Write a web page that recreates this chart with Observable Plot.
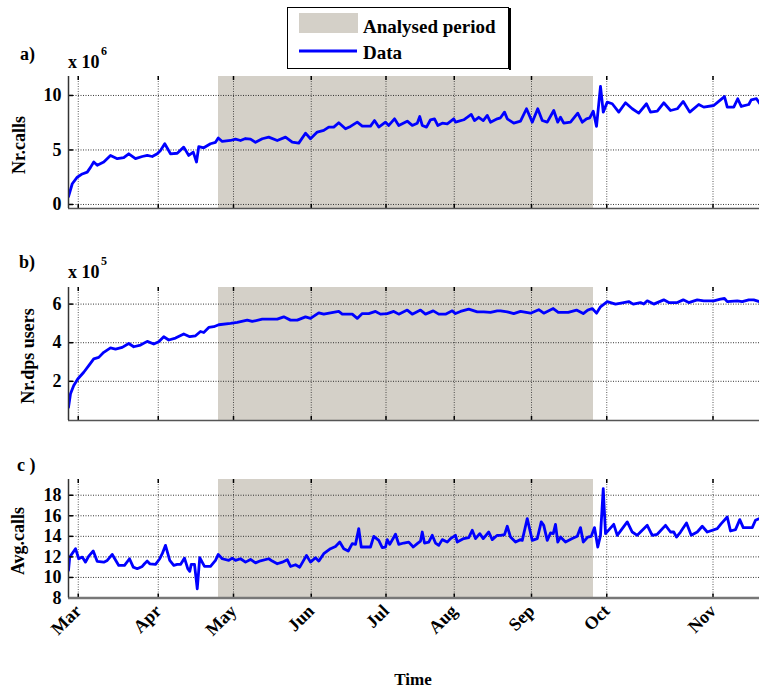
<!DOCTYPE html>
<html><head><meta charset="utf-8">
<script src="https://cdn.jsdelivr.net/npm/d3@7"></script>
<script src="https://cdn.jsdelivr.net/npm/@observablehq/plot@0.6"></script>
<style>
body{margin:0;background:#fff}
#chart{position:relative;width:759px;height:688px;overflow:hidden;background:#fff}
#chart svg{position:absolute;left:0}
</style></head><body><div id="chart"></div>
<script>
// x axis: days since the start of the series
const monthLabels = ["Mar","Apr","May","Jun","Jul","Aug","Sep","Oct","Nov"];
const monthDays = [3.9,35.9,66,97.1,127,154.3,185.2,215.3,257.8];
const periodStart = 60, periodEnd = 210;
const xDomain = [0, 276.4];

// a) Nr.calls (x 10^6)
const callsDay = [0,1.5,3.5,5.5,7.5,8.8,10.1,11.5,14.1,16.8,19.5,22.1,24.1,26.8,29.5,31.5,33.5,35.5,36.8,38.5,40.8,43.5,46.1,48.1,49.9,51.2,52.1,54.1,56.8,58.8,59.9,61.5,64.8,66.8,68.8,70.8,72.8,74.8,77.5,80.1,83.5,86.8,89.5,92.1,94.8,96.8,99.5,102.1,104.1,106.1,108.1,110.8,112.8,115.5,117.5,120.8,122.4,124.1,126.8,128.1,130.4,132.1,135.5,137.5,139.5,140.5,141.5,143.2,144.8,146.4,147.7,149.5,151.5,154.1,154.8,158.1,161.1,162.4,164.1,165.9,167.5,168.8,171.5,172.8,174.4,175.5,178.1,180.8,183.2,185.5,187.7,189.5,191.5,194.1,195.7,196.8,198.1,200.8,203.7,205.5,207.2,208.5,209.9,211.2,212.8,213.9,215.5,217.5,220.1,222.8,225.5,228.1,231.2,232.8,235.5,238.1,240.8,243.5,245.9,248.5,252.1,254.1,258.1,260.8,262.4,263.5,266.1,267.7,269.1,272.1,273.1,275.2,276.4];
const callsVal = [0.73,1.9,2.5,2.8,2.97,3.4,3.9,3.6,3.9,4.5,4.2,4.3,4.65,4.2,4.4,4.5,4.4,4.65,4.95,5.57,4.65,4.7,5.26,4.5,4.8,3.9,5.3,5.2,5.57,5.7,6.1,5.78,5.87,6.0,5.87,6.05,6.0,5.7,6.03,6.18,5.87,6.18,5.72,5.63,6.54,6.03,6.64,6.79,7.1,7.1,7.5,6.94,7.16,7.55,7.19,7.19,7.7,7.1,7.55,7.25,7.86,7.25,7.64,7.25,7.46,8.07,7.25,7.1,7.77,7.86,7.25,7.46,7.4,7.86,7.55,7.77,8.26,7.7,8.0,7.7,8.17,7.55,7.86,7.95,8.47,7.86,7.46,7.64,8.78,7.55,8.78,7.7,7.55,8.62,7.55,8.0,7.46,7.55,8.38,7.55,7.86,7.95,8.56,7.16,10.83,8.47,9.39,9.24,8.47,9.33,8.78,8.38,9.24,8.47,8.56,9.33,8.62,8.78,9.45,8.47,9.17,8.93,9.08,9.6,9.9,8.93,8.93,9.7,8.99,9.17,9.6,9.7,9.29];

// b) Nr.dps users (x 10^5)
const usersDay = [0,0.8,2.1,3.7,6.1,8.1,10.1,12.1,14.1,16.8,18.8,21.5,24.1,26.1,28.8,31.5,34.1,36.1,38.1,40.1,42.8,46.1,48.5,50.8,52.8,54.1,56.1,58.1,60.1,64.8,67.5,71.5,73.5,77.5,83.5,86.1,88.8,91.5,94.8,96.8,100.1,102.1,104.8,108.1,109.5,113.5,115.5,117.5,120.1,122.8,124.8,127.5,130.1,132.1,135.5,137.5,140.8,142.8,145.9,148.1,150.8,153.5,154.8,156.8,160.1,163.5,166.1,168.8,171.5,172.8,175.5,178.1,180.8,184.8,188.1,190.1,193.9,195.9,199.9,203.2,205.9,207.7,209.5,211.2,212.8,215.5,218.8,222.1,224.1,225.9,228.8,230.1,231.5,234.1,238.1,240.1,243.5,245.9,248.1,251.5,254.1,258.1,260.8,262.4,263.5,267.5,269.5,272.1,274.1,276.4];
const usersVal = [0.66,1.35,1.78,2.12,2.47,2.81,3.16,3.24,3.5,3.73,3.67,3.76,3.96,3.79,3.88,4.07,3.93,4.05,4.31,4.14,4.24,4.45,4.31,4.36,4.58,4.53,4.79,4.83,4.93,5.0,5.05,5.17,5.1,5.22,5.22,5.34,5.17,5.17,5.34,5.26,5.55,5.48,5.55,5.62,5.48,5.48,5.26,5.51,5.51,5.62,5.48,5.51,5.62,5.48,5.69,5.48,5.69,5.48,5.65,5.48,5.48,5.65,5.51,5.62,5.74,5.6,5.6,5.57,5.65,5.65,5.6,5.51,5.62,5.53,5.71,5.53,5.77,5.57,5.57,5.69,5.51,5.69,5.77,5.53,5.86,6.13,6.0,6.08,6.13,6.0,6.08,6.0,6.17,6.0,6.22,6.08,6.08,6.22,6.08,6.22,6.17,6.17,6.26,6.29,6.13,6.17,6.13,6.22,6.22,6.13];

// c) Avg.calls
const avgDay = [0,0.5,2.8,4.1,5.5,6.8,8.1,9.9,11.5,14.1,15.5,17.5,20.1,22.4,24.4,25.9,27.5,29.5,30.4,31.5,32.5,34.8,36.5,37.5,38.8,40.5,42.1,43.5,44.8,46.4,47.7,48.5,49.1,50.4,51.5,52.5,54.4,56.8,58.8,59.9,61.5,64.1,65.5,66.8,68.8,70.8,72.8,74.8,76.8,80.1,81.5,83.5,85.5,87.5,88.8,90.8,92.5,95.2,96.8,98.8,100.1,102.1,104.8,106.8,108.5,110.1,111.9,113.5,114.8,116.1,117.1,120.8,122.1,124.1,125.5,126.8,127.5,128.5,130.8,132.1,134.1,136.1,137.9,139.5,140.8,141.5,142.4,144.1,145.5,146.8,148.1,149.5,151.5,152.8,154.8,155.5,158.1,160.1,161.5,162.8,164.5,165.9,168.1,169.5,171.5,172.8,174.4,175.5,176.8,178.8,180.8,181.5,183.5,185.5,187.5,189.1,190.1,191.5,192.8,193.9,194.8,195.7,196.8,198.8,201.5,203.5,204.8,205.9,207.7,209.1,210.4,211.7,212.8,213.9,214.8,218.1,219.5,223.5,225.5,227.5,228.8,231.5,233.5,235.5,238.8,240.8,242.1,243.2,244.8,247.2,249.1,251.5,253.5,255.5,259.5,261.1,263.5,264.8,266.8,268.5,269.9,273.5,274.8,276.4];
const avgVal = [10.68,11.98,12.8,11.82,11.98,11.49,12.08,12.57,11.56,11.49,11.66,12.24,11.17,11.17,11.82,11.0,10.85,11.07,11.33,11.59,11.33,11.27,11.82,12.31,13.12,11.66,11.17,11.27,11.27,11.88,10.85,10.59,11.27,11.27,8.9,11.92,11.07,11.07,11.66,12.24,11.82,11.66,11.88,11.66,11.82,11.49,11.75,11.42,11.62,11.82,11.59,11.33,11.49,11.73,11.07,11.24,11.0,12.15,11.49,11.92,11.59,12.31,12.8,13.02,13.44,12.8,12.57,13.29,13.22,14.75,12.96,12.96,14.0,13.61,12.9,12.96,13.68,13.22,14.2,13.22,13.35,13.44,12.96,13.29,13.54,14.42,13.35,13.44,14.1,13.35,13.12,13.68,13.44,13.78,14.1,13.44,13.78,13.87,14.59,13.78,14.26,13.78,14.42,13.68,14.1,14.1,14.17,14.98,13.93,13.44,13.68,13.61,15.73,13.61,13.78,15.4,15.07,13.61,14.33,14.26,15.17,13.44,13.93,13.44,13.78,14.0,14.85,13.44,13.93,14.0,14.85,12.96,14.1,18.65,14.26,15.17,14.1,15.4,14.42,14.1,14.42,15.07,14.1,14.2,15.07,14.42,14.42,13.93,14.42,15.3,14.1,14.42,14.98,14.42,14.75,15.24,15.88,14.52,14.65,15.63,14.85,14.85,15.56,15.73];

const aTicks = [0,5,10], bTicks = [2,4,6], cTicks = [8,10,12,14,16,18];

const FONT = '"Liberation Serif","Times New Roman",serif';
const W = 759, ML = 68;
const labelOf = new Map(monthDays.map((d,i)=>[d, monthLabels[i]]));
const root = document.getElementById("chart");

function panel({days, vals, yDomain, yTicks, top, height, marginTop, marginBottom, showMonths, bottomStroke, bottomWidth}) {
  const data = days.map((d,i)=>({d, v: vals[i]}));
  const frameH = height - marginTop - marginBottom;
  const frameW = W - ML;
  const marks = [
    Plot.rect([0], {x1: periodStart, x2: periodEnd, y1: yDomain[0], y2: yDomain[1], fill: "#d4d0c8"}),
    Plot.gridY(yTicks, {stroke: "#222", strokeOpacity: 0.9, strokeDasharray: "1,1.5", strokeWidth: 1}),
    Plot.gridX(monthDays, {stroke: "#222", strokeOpacity: 0.75, strokeDasharray: "1,1.5", strokeWidth: 1}),
    Plot.line(data, {x: "d", y: "v", stroke: "#0000ff", strokeWidth: 2.8, clip: true}),
    Plot.tickX(monthDays, {x: d=>d, stroke: "#000", strokeWidth: 1.5, insetBottom: frameH - 4}),
    Plot.tickX(monthDays, {x: d=>d, stroke: "#000", strokeWidth: 1.5, insetTop: frameH - 4}),
    Plot.tickY(yTicks, {y: d=>d, stroke: "#000", strokeWidth: 1.5, insetRight: frameW - 5}),
    Plot.ruleY([yDomain[0]], {stroke: bottomStroke, strokeWidth: bottomWidth}),
    Plot.ruleX([xDomain[0]], {stroke: "#333", strokeWidth: 1.5}),
    Plot.axisY(yTicks, {tickSize: 0, tickPadding: 7, label: null, fontSize: 18, fontWeight: "bold", fontFamily: FONT, fill: "#000"})
  ];
  if (showMonths) {
    marks.push(Plot.axisX(monthDays, {tickSize: 0, tickPadding: 10, tickRotate: -45, label: null, tickFormat: d=>labelOf.get(d),
      fontSize: 18, fontWeight: "bold", fontFamily: FONT, fill: "#000"}));
  }
  const svg = Plot.plot({
    width: W, height, marginLeft: ML, marginRight: 0, marginTop, marginBottom,
    x: {type: "linear", domain: xDomain, axis: null, label: null},
    y: {type: "linear", domain: yDomain, axis: null, label: null},
    style: {fontFamily: FONT, fontWeight: "bold", fontSize: "17px", background: "transparent", overflow: "visible", color: "#000"},
    marks
  });
  svg.style.position = "absolute";
  svg.style.top = top + "px";
  svg.style.left = "0px";
  root.appendChild(svg);
}

panel({days: callsDay, vals: callsVal, yDomain: [-0.37, 11.74], yTicks: aTicks, top: 70, height: 144, marginTop: 6, marginBottom: 6, showMonths: false, bottomStroke: "#555", bottomWidth: 1.5});
panel({days: usersDay, vals: usersVal, yDomain: [-0.03, 6.86], yTicks: bTicks, top: 281, height: 145, marginTop: 6, marginBottom: 6, showMonths: false, bottomStroke: "#555", bottomWidth: 1.5});
panel({days: avgDay, vals: avgVal, yDomain: [8, 19.53], yTicks: cTicks, top: 473, height: 185, marginTop: 6, marginBottom: 60.5, showMonths: true, bottomStroke: "#777", bottomWidth: 2.5});

// overlay: panel letters, exponents, axis titles, legend
const ov = d3.select(root).append("svg").attr("width", W).attr("height", 688)
  .style("position", "absolute").style("top", "0px").style("left", "0px")
  .attr("font-family", FONT).attr("font-weight", "bold").attr("fill", "#000");

function txt(x, y, s, size, opts = {}) {
  const t = ov.append("text").attr("x", x).attr("y", y).attr("font-size", size).text(s);
  if (opts.anchor) t.attr("text-anchor", opts.anchor);
  if (opts.rotate) t.attr("transform", `rotate(${opts.rotate},${x},${y})`);
  return t;
}
txt(20, 60, "a)", 18);
txt(68, 68, "x 10", 18); txt(101, 55, "6", 12);
txt(19, 268, "b)", 18);
txt(68, 278, "x 10", 18); txt(101, 265, "5", 12);
txt(17, 471, "c )", 18);
txt(25, 145, "Nr.calls", 18, {anchor: "middle", rotate: -90});
txt(34, 356, "Nr.dps users", 18, {anchor: "middle", rotate: -90});
txt(24, 541, "Avg.calls", 18, {anchor: "middle", rotate: -90});
txt(413, 685, "Time", 17, {anchor: "middle"});

// legend
ov.append("rect").attr("x", 287.5).attr("y", 7.5).attr("width", 221).attr("height", 61).attr("fill", "#fff").attr("stroke", "#000").attr("stroke-width", 1);
ov.append("line").attr("x1", 510).attr("x2", 510).attr("y1", 8).attr("y2", 70).attr("stroke", "#000").attr("stroke-width", 2);
ov.append("rect").attr("x", 299).attr("y", 13).attr("width", 59).attr("height", 20).attr("fill", "#d4d0c8");
ov.append("line").attr("x1", 299).attr("x2", 357).attr("y1", 51).attr("y2", 51).attr("stroke", "#0000ff").attr("stroke-width", 3);
txt(363, 33, "Analysed period", 19);
txt(363, 59, "Data", 19);
</script></body></html>
